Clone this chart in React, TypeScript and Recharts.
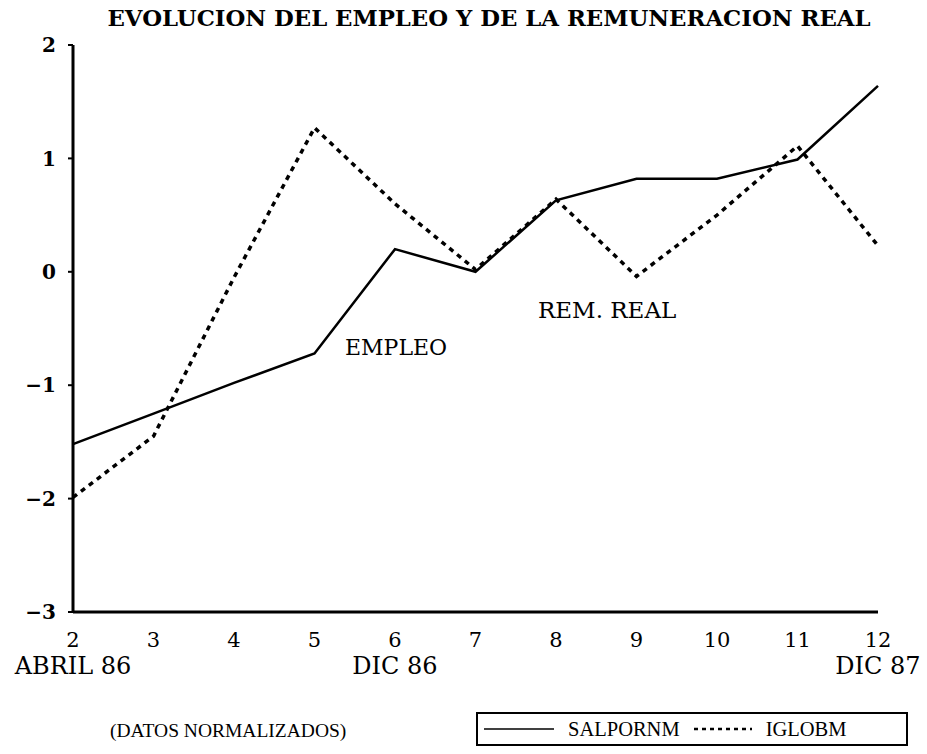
import React from 'react';
import { LineChart, Line, XAxis, YAxis, Legend } from 'recharts';

const months = [2, 3, 4, 5, 6, 7, 8, 9, 10, 11, 12];
const salpornm = [-1.52, -1.25, -0.98, -0.72, 0.2, 0.0, 0.63, 0.82, 0.82, 0.99, 1.64];
const iglobm = [-1.99, -1.45, -0.05, 1.27, 0.6, 0.02, 0.64, -0.04, 0.5, 1.11, 0.23];
const yTicks = [-3, -2, -1, 0, 1, 2];
const periodLabels: Record<number, string> = { 2: 'ABRIL 86', 6: 'DIC 86', 12: 'DIC 87' };
const seriesKeys = ['salpornm', 'iglobm'];
const seriesNames = ['SALPORNM', 'IGLOBM'];
const title = 'EVOLUCION DEL EMPLEO Y DE LA REMUNERACION REAL';
const noteText = '(DATOS NORMALIZADOS)';
const annotations = ['EMPLEO', 'REM. REAL'];

const data = months.map((m, i) => ({ month: m, salpornm: salpornm[i], iglobm: iglobm[i] }));

const serif = '"DejaVu Serif", serif';
const serif2 = '"Liberation Serif", serif';

const lineStyles = [
  { strokeWidth: 2.5, strokeDasharray: undefined as string | undefined, iconWidth: 70, iconStroke: 1.5 },
  { strokeWidth: 3.5, strokeDasharray: '5 5', iconWidth: 58, iconStroke: 2.5 },
];

function XTick(props: any) {
  const { x, y, payload } = props;
  const second = periodLabels[payload.value];
  return (
    <g>
      <text x={x} y={y} dy={27} textAnchor="middle" fontFamily={serif} fontSize={21} fill="#000">
        {payload.value}
      </text>
      {second && (
        <text x={x} y={y} dy={54} textAnchor="middle" fontFamily={serif} fontSize={24} fill="#000">
          {second}
        </text>
      )}
    </g>
  );
}

function LegendBox(props: any) {
  const payload = (props.payload || []).slice().sort(
    (a: any, b: any) => seriesKeys.indexOf(a.dataKey) - seriesKeys.indexOf(b.dataKey)
  );
  return (
    <div
      style={{
        border: '2px solid #000',
        boxSizing: 'border-box',
        width: '100%',
        height: 34,
        display: 'flex',
        alignItems: 'center',
        justifyContent: 'flex-start',
        paddingLeft: 6,
        gap: 14,
        fontFamily: serif2,
        fontSize: 20.5,
        color: '#000',
      }}
    >
      {payload.map((p: any) => {
        const st = lineStyles[Math.max(0, seriesKeys.indexOf(p.dataKey))];
        return (
          <React.Fragment key={String(p.value)}>
            <svg width={st.iconWidth} height={8}>
              <line
                x1={0}
                y1={4}
                x2={st.iconWidth}
                y2={4}
                stroke="#000"
                strokeWidth={st.iconStroke}
                strokeDasharray={st.strokeDasharray ? '4 4' : undefined}
              />
            </svg>
            <span>{p.value}</span>
          </React.Fragment>
        );
      })}
    </div>
  );
}

export default function App() {
  return (
    <div style={{ position: 'absolute', left: 0, top: 0, width: 927, height: 754, background: '#fff' }}>
      <LineChart width={927} height={754} data={data} margin={{ top: 45, right: 49, bottom: 72, left: 13 }}>
        <XAxis
          dataKey="month"
          type="number"
          domain={[2, 12]}
          ticks={months}
          interval={0}
          tickLine={false}
          axisLine={{ stroke: '#000', strokeWidth: 3 }}
          height={70}
          tick={<XTick />}
        />
        <XAxis
          xAxisId="top"
          orientation="top"
          dataKey="month"
          type="number"
          domain={[2, 12]}
          height={0}
          tick={false}
          tickLine={false}
          axisLine={{ stroke: '#000', strokeWidth: 3 }}
        />
        <YAxis
          type="number"
          domain={[-3, 2]}
          ticks={yTicks}
          interval={0}
          width={60}
          tickSize={5}
          tickMargin={12}
          tickLine={{ stroke: '#000', strokeWidth: 2 }}
          axisLine={{ stroke: '#000', strokeWidth: 3 }}
          tick={{ fontFamily: serif, fontWeight: 'bold', fontSize: 20, fill: '#000' }}
          tickFormatter={(v: number) => (v < 0 ? '\u2212' + Math.abs(v) : String(v))}
        />
        <YAxis
          yAxisId="right"
          orientation="right"
          type="number"
          domain={[-3, 2]}
          width={0}
          tick={false}
          tickLine={false}
          axisLine={{ stroke: '#000', strokeWidth: 2.5 }}
        />
        <Legend
          layout="horizontal"
          verticalAlign="middle"
          align="center"
          itemSorter={null as any}
          content={<LegendBox />}
          wrapperStyle={{ position: 'absolute', left: 476, top: 712, width: 432, height: 34 }}
        />
        <Line
          type="linear"
          dataKey="salpornm"
          name={seriesNames[0]}
          stroke="#000"
          strokeWidth={lineStyles[0].strokeWidth}
          dot={false}
          activeDot={false}
          isAnimationActive={false}
        />
        <Line
          type="linear"
          dataKey="iglobm"
          name={seriesNames[1]}
          stroke="#000"
          strokeWidth={lineStyles[1].strokeWidth}
          strokeDasharray={lineStyles[1].strokeDasharray}
          dot={false}
          activeDot={false}
          isAnimationActive={false}
        />
      </LineChart>
      <svg width={927} height={754} style={{ position: 'absolute', left: 0, top: 0, pointerEvents: 'none' }}>
        <text
          x={489}
          y={26}
          textAnchor="middle"
          fontFamily={serif}
          fontWeight="bold"
          fontSize={22}
          textLength={763}
          lengthAdjust="spacingAndGlyphs"
          fill="#000"
        >
          {title}
        </text>
        <text x={345} y={355} fontFamily={serif} fontSize={22} fill="#000">
          {annotations[0]}
        </text>
        <text x={538} y={318} fontFamily={serif} fontSize={23} fill="#000">
          {annotations[1]}
        </text>
        <text x={110} y={737} fontFamily={serif2} fontSize={19.5} fill="#000">
          {noteText}
        </text>
      </svg>
    </div>
  );
}
